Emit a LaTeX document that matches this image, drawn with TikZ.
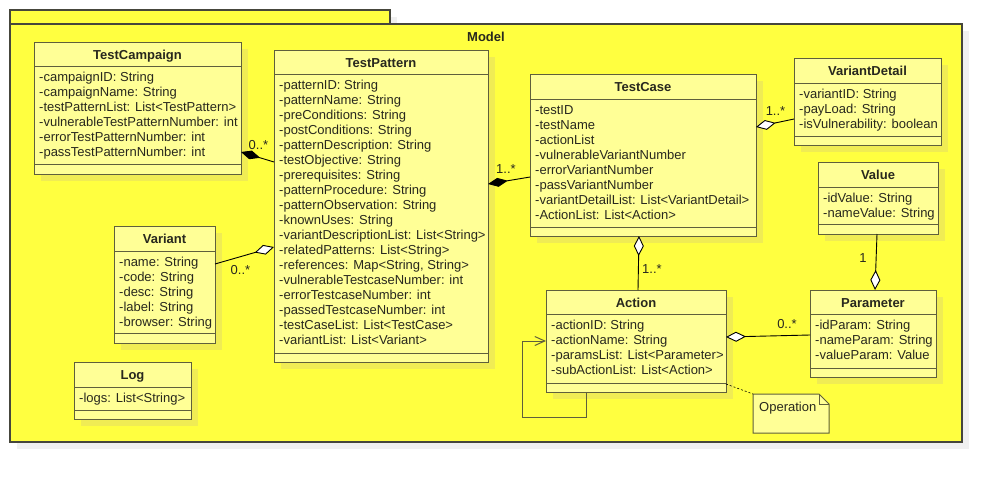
\documentclass[tikz,border=0pt]{standalone}
\usepackage{fontspec}
\setmainfont{Liberation Sans}
\usetikzlibrary{arrows.meta}

\definecolor{pkgfill}{RGB}{255,255,64}
\definecolor{pkgline}{RGB}{70,70,60}
\definecolor{pkgshadow}{RGB}{240,240,240}
\definecolor{classfill}{RGB}{255,255,150}
\definecolor{classline}{RGB}{95,95,60}
\definecolor{classshadow}{RGB}{240,236,84}
\definecolor{textc}{RGB}{40,40,30}

\tikzset{
  umlfont/.style={font=\fontsize{13pt}{15pt}\selectfont, text=textc},
  pkgbox/.style={draw=pkgline, fill=pkgfill, line width=1.1pt, inner sep=0pt, outer sep=0pt},
  classbox/.style={draw=classline, fill=classfill, line width=1pt, inner sep=0pt, outer sep=0pt},
  titletext/.style={font=\fontsize{13pt}{15pt}\selectfont\bfseries, text=textc, inner sep=0pt, anchor=base},
  attrtext/.style={umlfont, inner sep=0pt, anchor=base west},
  mult/.style={umlfont, inner sep=0pt, anchor=base},
  conn/.style={draw=black, line width=0.9pt},
  comp/.style={conn, {Diamond[fill=black,length=20pt,width=9pt]}-},
  aggr/.style={conn, {Diamond[fill=white,length=20pt,width=10pt]}-},
  selfnav/.style={draw=classline, line width=1pt, -{Straight Barb[length=10pt,width=9pt]}},
  notelink/.style={draw=black, line width=0.6pt, dash pattern=on 2pt off 2pt},
}

% class box: name, left, top, right, bottom, header rule, operation rule, title, attributes
\newcommand\umlclass[9]{%
  \fill[classshadow] (#2+7,#3+7) rectangle (#4+7,#5+7);
  \node[classbox, minimum width={(#4-#2)*1pt}, minimum height={(#5-#3)*1pt}, anchor=north west] (#1) at (#2,#3) {};
  \draw[classline, line width=1pt] (#2,#6) -- (#4,#6) (#2,#7) -- (#4,#7);
  \node[titletext] (#1-title) at ({(#2+#4)/2},#3+17) {#8};
  \foreach \clsattr [count=\clsidx] in {#9} {\node[attrtext] (#1-\clsidx) at (#2+5,#6+15*\clsidx) {\clsattr};}
}

\begin{document}
\begin{tikzpicture}[x=1pt,y=-1pt]
\useasboundingbox (0,0) rectangle (1002,482);

% package Model with its tab
\fill[pkgshadow] (17,17) rectangle (397,31);
\fill[pkgshadow] (17,31) rectangle (969,449);
\node[pkgbox, minimum width=380pt, minimum height=14pt, anchor=north west] (modeltab) at (10,10) {};
\node[pkgbox, minimum width=952pt, minimum height=418pt, anchor=north west] (model) at (10,24) {};
\node[titletext] (model-title) at (486,41.5) {Model};

\umlclass{TestCampaign}{34}{42}{241}{174}{66}{164}{TestCampaign}{%
  -campaignID: String,
  -campaignName: String,
  -testPatternList: List<TestPattern>,
  -vulnerableTestPatternNumber: int,
  -errorTestPatternNumber: int,
  -passTestPatternNumber: int}

\umlclass{TestPattern}{274}{50}{488}{362}{74}{353}{TestPattern}{%
  -patternID: String,
  -patternName: String,
  -preConditions: String,
  -postConditions: String,
  -patternDescription: String,
  -testObjective: String,
  -prerequisites: String,
  -patternProcedure: String,
  -patternObservation: String,
  -knownUses: String,
  -variantDescriptionList: List<String>,
  -relatedPatterns: List<String>,
  {-references: Map<String, String>},
  -vulnerableTestcaseNumber: int,
  -errorTestcaseNumber: int,
  -passedTestcaseNumber: int,
  -testCaseList: List<TestCase>,
  -variantList: List<Variant>}

\umlclass{Variant}{114}{226}{215}{343}{251}{333}{Variant}{%
  -name: String,
  -code: String,
  -desc: String,
  -label: String,
  -browser: String}

\umlclass{Log}{74}{362}{191}{419}{387}{410}{Log}{%
  -logs: List<String>}

\umlclass{TestCase}{530}{74}{756}{236}{99}{227}{TestCase}{%
  -testID,
  -testName,
  -actionList,
  -vulnerableVariantNumber,
  -errorVariantNumber,
  -passVariantNumber,
  -variantDetailList: List<VariantDetail>,
  -ActionList: List<Action>}

\umlclass{VariantDetail}{794}{58}{941}{145}{83}{136}{VariantDetail}{%
  -variantID: String,
  -payLoad: String,
  -isVulnerability: boolean}

\umlclass{Value}{818}{162}{938}{234}{187}{224}{Value}{%
  -idValue: String,
  -nameValue: String}

\umlclass{Action}{546}{290}{726}{392}{314}{383}{Action}{%
  -actionID: String,
  -actionName: String,
  -paramsList: List<Parameter>,
  -subActionList: List<Action>}

\umlclass{Parameter}{810}{290}{936}{377}{314}{368}{Parameter}{%
  -idParam: String,
  -nameParam: String,
  -valueParam: Value}

% note attached to Action
\node[minimum width=76pt, minimum height=39pt, inner sep=0pt, outer sep=0pt, anchor=north west] (Operation) at (753,394) {};
\filldraw[fill=classfill, draw=classline, line width=1pt]
  (Operation.north west) -- ([xshift=-10pt]Operation.north east) -- ([yshift=-10pt]Operation.north east)
  -- (Operation.south east) -- (Operation.south west) -- cycle;
\draw[classline, line width=1pt]
  ([xshift=-10pt]Operation.north east) -- ([xshift=-10pt,yshift=-10pt]Operation.north east) -- ([yshift=-10pt]Operation.north east);
\node[attrtext] (Operation-text) at (759,411) {Operation};

% associations
\draw[comp] ([yshift=-110pt]TestCampaign.north east) -- ([yshift=-112pt]TestPattern.north west);
\node[mult] (m1) at (258.5,149) {0..*};

\draw[comp] ([yshift=-134pt]TestPattern.north east) -- ([yshift=-103pt]TestCase.north west);
\node[mult] (m2) at (506,173) {1..*};

\draw[aggr] ([yshift=-197pt]TestPattern.north west) -- ([yshift=-38pt]Variant.north east);
\node[mult] (m3) at (240.5,274) {0..*};

\draw[aggr] ([yshift=-53pt]TestCase.north east) -- ([yshift=-61pt]VariantDetail.north west);
\node[mult] (m4) at (775.5,115) {1..*};

\draw[aggr] ([xshift=65pt]Parameter.north west) -- ([xshift=59pt]Value.south west);
\node[mult] (m5) at (863,262) {1};

\draw[aggr] ([xshift=109pt]TestCase.south west) -- ([xshift=92pt]Action.north west);
\node[mult] (m6) at (652,273) {1..*};

\draw[aggr] ([yshift=-47pt]Action.north east) -- ([yshift=-45pt]Parameter.north west);
\node[mult] (m7) at (787,328) {0..*};

% recursive sub-actions
\draw[selfnav] ([xshift=40pt]Action.south west) -- ++(0,25) -- ++(-64,0) -- ++(0,-76) -- ([yshift=-51pt]Action.north west);

% note link
\draw[notelink] ([yshift=8pt]Action.south east) -- (Operation.north west);
\end{tikzpicture}
\end{document}
